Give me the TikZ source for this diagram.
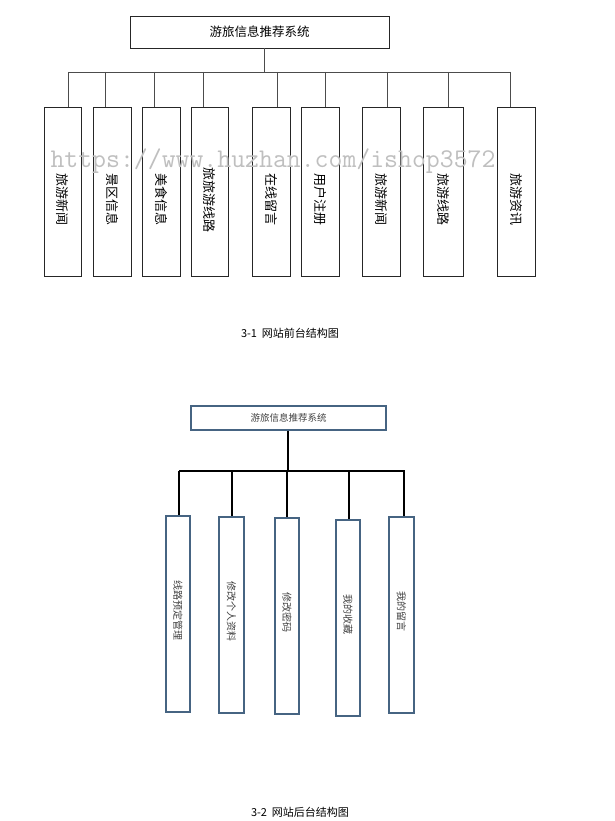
\documentclass[tikz,border=0pt]{standalone}
\usepackage{fontspec}
\newfontfamily\cjk{Noto Sans CJK SC}
\definecolor{steel}{RGB}{70,100,130}
\begin{document}
\begin{tikzpicture}[x=1pt,y=-1pt,
  tbox/.style={draw=black!85,line width=0.9pt,fill=white,inner sep=0pt},
  tlab/.style={font=\cjk\fontsize{13}{13}\selectfont,rotate=-90},
  bbox/.style={draw=steel,line width=1.5pt,fill=white,inner sep=0pt},
  blab/.style={font=\cjk\fontsize{10}{10}\selectfont,text=black!75,rotate=-90},
  captext/.style={font=\cjk\fontsize{11}{11}\selectfont}]
\useasboundingbox (0,0) rectangle (615,821);
% top
\node[tbox,minimum width=259pt,minimum height=32pt,font=\cjk\fontsize{12.5}{12.5}\selectfont] (T) at (259.5,32) {游旅信息推荐系统};
\coordinate (TB) at (264,72);
\draw[black!70,line width=0.8pt] (T.south -| TB) -- (TB);
\draw[black!70,line width=0.8pt] (68,72) -- (510,72);
\foreach \n/\xa/\xb/\s/\t in {1/44/81/68/旅游新闻,2/93/131/105/景区信息,3/142/180/154/美食信息,4/191/228/203/旅旅游线路,5/252/290/277/在线留言,6/301/339/325/用户注册,7/362/400/387/旅游新闻,8/423/463/448/旅游线路,9/497/535/510/旅游资讯}{
  \node[tbox,minimum width={\xb-\xa},minimum height=169pt] (a\n) at ({(\xa+\xb)/2},191.5) {};
  \node[tlab] at ({(\xa+\xb)/2},200) {\t};
  \coordinate (s\n) at (\s,72);
  \draw[black!70,line width=0.8pt] (s\n) -- (s\n |- a\n.north);
}
\node[text=black!25,font=\fontsize{27}{27}\selectfont\ttfamily] (W) at (273,161) {https://www.huzhan.com/ishop3572};
\node[captext] (C1) at (290,333) {3-1\ \ 网站前台结构图};
% bottom
\node[draw=steel,line width=1.2pt,minimum width=195pt,minimum height=24pt,inner sep=0pt,font=\cjk\fontsize{9.5}{9.5}\selectfont,text=black!75] (U) at (288.5,418) {游旅信息推荐系统};
\coordinate (UB) at (288,471);
\draw[black,line width=1.8pt] (U.south -| UB) -- (UB);
\draw[black,line width=1.8pt] (179,471) -- (405,471);
\foreach \n/\xa/\xb/\ya/\s/\t in {1/166/190/516/179/线路预定管理,2/219/244/517/232/修改个人资料,3/275/299/518/287/修改密码,4/336/360/520/349/我的收藏,5/389/414/517/404/我的留言}{
  \node[bbox,minimum width={\xb-\xa},minimum height=196pt] (b\n) at ({(\xa+\xb)/2},{\ya+98}) {};
  \node[blab] at ({(\xa+\xb)/2},{\ya+94}) {\t};
  \coordinate (t\n) at (\s,471);
  \draw[black,line width=1.8pt] (t\n) -- (t\n |- b\n.north);
}
\node[captext] (C2) at (300,812) {3-2\ \ 网站后台结构图};
\end{tikzpicture}
\end{document}
